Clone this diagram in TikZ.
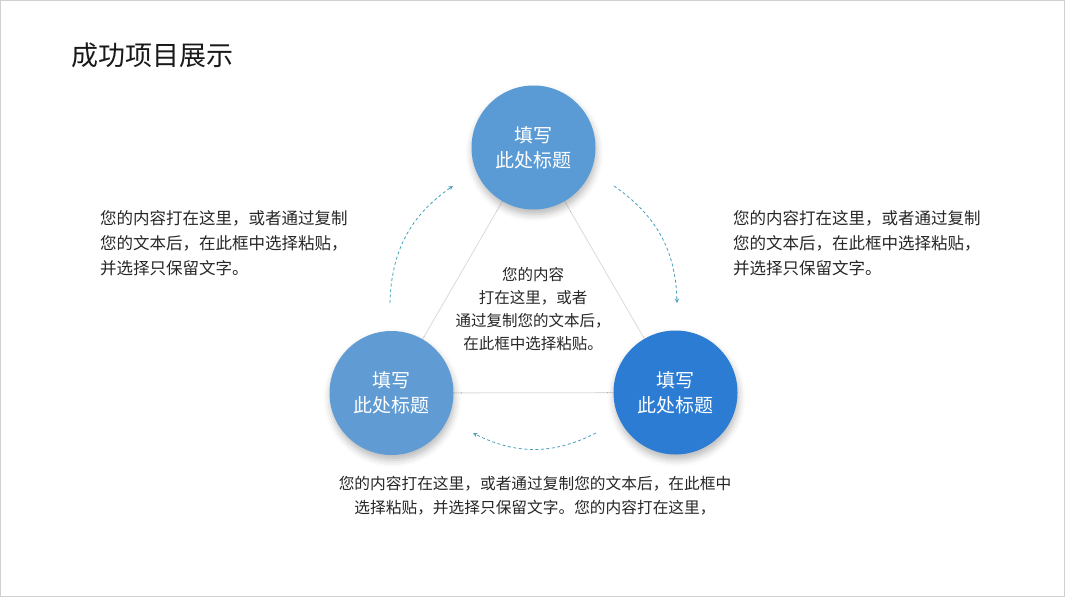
\documentclass[tikz,border=0pt]{standalone}
\usepackage{fontspec}
\setmainfont{Noto Sans CJK SC}
\usetikzlibrary{arrows.meta,shadows.blur,backgrounds}
\definecolor{cTop}{RGB}{91,155,213}
\definecolor{cLeft}{RGB}{96,156,211}
\definecolor{cRight}{RGB}{44,124,212}
\definecolor{cArrow}{RGB}{72,160,190}
\definecolor{cText}{RGB}{38,38,38}
\definecolor{cLine}{RGB}{218,218,218}
\definecolor{cFrame}{RGB}{208,208,208}
\tikzset{
  bubble/.style={circle, minimum size=124pt, inner sep=0pt, text=white, align=center,
    font=\fontsize{19}{25}\selectfont,
    blur shadow={shadow xshift=1pt, shadow yshift=-5pt, shadow blur radius=7pt, shadow opacity=28}},
  bodytext/.style={text=cText, inner sep=0pt, font=\fontsize{16.5}{25}\selectfont},
  flowarrow/.style={draw=cArrow, line width=0.8pt, dash pattern=on 3pt off 2.5pt,
    -{Stealth[length=4.5pt,width=4.5pt]}},
  tri/.style={draw=cLine, line width=0.8pt}
}
\begin{document}
\begin{tikzpicture}[x=1pt,y=1pt]
\useasboundingbox (0,0) rectangle (1067,-600);
\draw[cFrame, line width=1.2pt] (0.6,-0.6) rectangle (1064.5,-596.5);

% title
\node[anchor=west, inner sep=0pt, text=black!90, font=\fontsize{27}{30}\selectfont] (title) at (71,-55) {成功项目展示};

% circles
\node[bubble, fill=cTop] (top) at (533.5,-147.5) {填写\\此处标题};
\node[bubble, fill=cLeft] (left) at (391.5,-393) {填写\\此处标题};
\node[bubble, fill=cRight] (right) at (675.5,-392.5) {填写\\此处标题};

% triangle lines
\begin{scope}[on background layer]
\draw[tri] (top.center) -- (left.center);
\draw[tri] (top.center) -- (right.center);
\draw[tri] (left.center) -- (right.center);
\end{scope}

% text blocks
\node[bodytext, anchor=west, align=left] (ltext) at (100,-243)
  {您的内容打在这里，或者通过复制\\您的文本后，在此框中选择粘贴，\\并选择只保留文字。};
\node[bodytext, anchor=west, align=left] (rtext) at (733,-243)
  {您的内容打在这里，或者通过复制\\您的文本后，在此框中选择粘贴，\\并选择只保留文字。};
\node[bodytext, align=center, font=\fontsize{15.5}{23}\selectfont] (ctext) at (533,-309.5)
  {您的内容\\打在这里，或者\\通过复制您的文本后，\\在此框中选择粘贴。};
\node[bodytext, align=center, font=\fontsize{15.7}{24}\selectfont] (btext) at (535,-496)
  {您的内容打在这里，或者通过复制您的文本后，在此框中\\选择粘贴，并选择只保留文字。您的内容打在这里，};

% dashed arrows
\coordinate (a1s) at (390,-303);
\coordinate (a1e) at (453,-186);
\coordinate (a2s) at (614,-186);
\coordinate (a2e) at (677,-303);
\coordinate (a3s) at (596,-433);
\coordinate (a3e) at (473,-433);
\draw[flowarrow] (a1s) to[bend left=27] (a1e);
\draw[flowarrow] (a2s) to[bend left=27] (a2e);
\draw[flowarrow] (a3s) to[bend left=27] (a3e);
\end{tikzpicture}
\end{document}
